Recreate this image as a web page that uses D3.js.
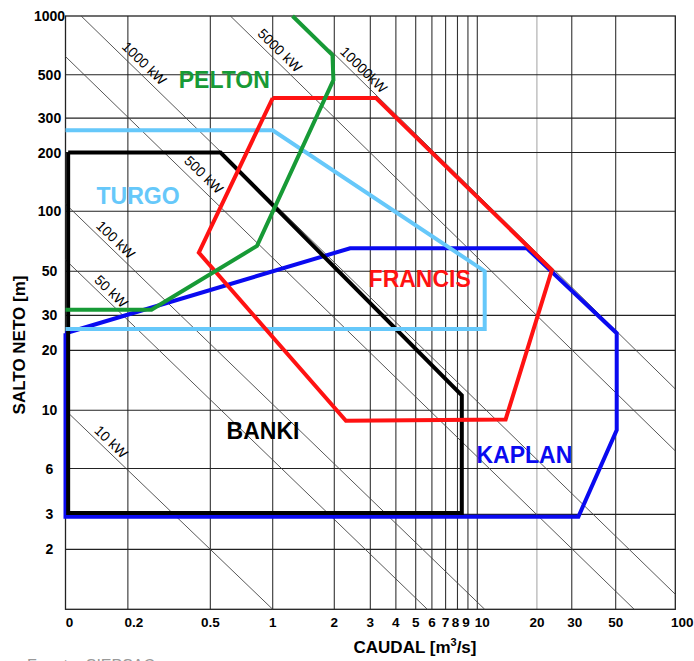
<!DOCTYPE html>
<html>
<head>
<meta charset="utf-8">
<script src="https://cdn.jsdelivr.net/npm/d3@7"></script>
<style>
    body { margin: 0; background: #fff; }
    text { font-family: "Liberation Sans", Arial, sans-serif; }
</style>
</head>
<body>
<script>
// axis ticks (the gridline labelled 6 sits at ~5.1 on the drawn log grid)
let xTicks = [0.1, 0.2, 0.5, 1, 2, 3, 4, 5, 6, 7, 8, 9, 10, 20, 30, 50, 100];
let xTickLabels = ['0', '0.2', '0.5', '1', '2', '3', '4', '5', '6', '7', '8', '9', '10', '20', '30', '50', '100'];
let yTicks = [1000, 500, 300, 200, 100, 50, 30, 20, 10, 5.1, 3, 2];
let yTickLabels = ['1000', '500', '300', '200', '100', '50', '30', '20', '10', '6', '3', '2'];

// constant power lines, Q*H product
let powerLabels = ['10 kW', '50 kW', '100 kW', '500 kW', '1000 kW', '5000 kW', '10000kW'];
let powerQH = [1, 5.7, 10.9, 62, 119, 625, 1280];
let powerLabelQ = [0.155, 0.155, 0.163, 0.434, 0.224, 1.01, 2.6];
let powerFromQ = [0, 0, 0, 0, 0, 0, 1.9];

// turbine envelopes [caudal m3/s, salto m]
let pelton = [[1.25, 1000], [1.96, 631], [1.98, 470], [0.84, 67], [0.26, 32], [0.1, 32]];
let turgo = [[0.1, 260], [1, 260], [10.9, 50], [10.9, 25.6], [0.1, 25.6]];
let banki = [[0.103, 200], [0.56, 200], [8.4, 11.9], [8.4, 3.05], [0.103, 3.05], [0.103, 200]];
let francis = [[1, 380], [3.2, 380], [23.8, 50.7], [13.9, 9], [2.28, 8.85], [0.44, 62], [1, 380]];
let kaplan = [[0.1, 24.4], [2.39, 65.2], [17.8, 65.2], [50.6, 24.4], [50.6, 7.96], [32.4, 2.92], [0.1, 2.92], [0.1, 24.4]];

let turbineNames = ['KAPLAN', 'BANKI', 'TURGO', 'FRANCIS', 'PELTON'];
let turbineShapes = [kaplan, banki, turgo, francis, pelton];
let turbineColors = ['#0a0af0', '#000000', '#66c8fa', '#ff1212', '#179a36'];
let turbineLabelPos = [[17.3, 5.42], [0.898, 7.15], [0.224, 109], [5.23, 41.5], [0.584, 427]];

let width = 694;
let height = 661;

let svg = d3.select('body').append('svg')
    .attr('width', width)
    .attr('height', height);

svg.append('rect').attr('width', width).attr('height', height).attr('fill', '#fff');

// hand drawn log grid, decades are not quite equal
let x = d3.scaleLog()
    .domain([0.1, 1, 10, 100])
    .range([65.5, 272.7, 477.3, 675.3]);
let y = d3.scaleLog()
    .domain([1, 10, 100, 1000])
    .range([609.3, 410.3, 211.3, 16]);

let plot = svg.append('g');

// grid
plot.selectAll('.vgrid')
    .data(xTicks.slice(1, -1))
    .join('line')
    .attr('class', 'vgrid')
    .attr('x1', d => x(d)).attr('x2', d => x(d))
    .attr('y1', y(1000)).attr('y2', y(1))
    .attr('stroke', d => d == 20 ? '#aaa' : '#333')
    .attr('stroke-width', 1.1);

plot.selectAll('.hgrid')
    .data(yTicks.slice(1))
    .join('line')
    .attr('class', 'hgrid')
    .attr('x1', x(0.1)).attr('x2', x(100))
    .attr('y1', d => y(d)).attr('y2', d => y(d))
    .attr('stroke', '#222')
    .attr('stroke-width', 1.1);

plot.append('rect')
    .attr('x', x(0.1)).attr('y', y(1000))
    .attr('width', x(100) - x(0.1))
    .attr('height', y(1) - y(1000))
    .attr('fill', 'none')
    .attr('stroke', '#222')
    .attr('stroke-width', 1.3);

// power lines
let powerData = powerQH.map((c, i) => {
    let q1 = Math.max(0.1, c / 1000, powerFromQ[i]);
    let q2 = Math.min(100, c);
    let p1 = [x(q1), y(c / q1)];
    let p2 = [x(q2), y(c / q2)];
    let lq = powerLabelQ[i];
    return {
        p1: p1, p2: p2,
        label: powerLabels[i],
        lx: x(lq), ly: y(c / lq),
        angle: Math.atan2(p2[1] - p1[1], p2[0] - p1[0]) * 180 / Math.PI
    };
});

plot.selectAll('.pline')
    .data(powerData)
    .join('line')
    .attr('class', 'pline')
    .attr('x1', d => d.p1[0]).attr('y1', d => d.p1[1])
    .attr('x2', d => d.p2[0]).attr('y2', d => d.p2[1])
    .attr('stroke', '#444')
    .attr('stroke-width', 0.9);

plot.selectAll('.plabel')
    .data(powerData)
    .join('text')
    .attr('class', 'plabel')
    .attr('transform', d => `translate(${d.lx},${d.ly}) rotate(${d.angle})`)
    .attr('dy', -4)
    .attr('text-anchor', 'middle')
    .attr('font-size', 14)
    .attr('fill', '#000')
    .text(d => d.label);

// turbine envelopes
let line = d3.line()
    .x(d => x(d[0]))
    .y(d => y(d[1]));

plot.selectAll('.turbine')
    .data(turbineShapes)
    .join('path')
    .attr('class', 'turbine')
    .attr('d', line)
    .attr('fill', 'none')
    .attr('stroke', (_, i) => turbineColors[i])
    .attr('stroke-width', 4)
    .attr('stroke-linejoin', 'miter');

plot.selectAll('.tlabel')
    .data(turbineNames)
    .join('text')
    .attr('class', 'tlabel')
    .attr('x', (_, i) => x(turbineLabelPos[i][0]))
    .attr('y', (_, i) => y(turbineLabelPos[i][1]))
    .attr('text-anchor', 'middle')
    .attr('font-size', 23)
    .attr('font-weight', 'bold')
    .attr('fill', (_, i) => turbineColors[i])
    .text(d => d);

// tick labels, a few sit a little right of their gridline in the original
let xLabelNudge = {0.1: 4, 0.2: 6, 8: -2, 9: -2, 10: 5, 30: 3, 100: 7};

svg.selectAll('.xtick')
    .data(xTicks)
    .join('text')
    .attr('class', 'xtick')
    .attr('x', d => x(d) + (xLabelNudge[d] || 0))
    .attr('y', 627)
    .attr('text-anchor', 'middle')
    .attr('font-size', 13.5)
    .attr('font-weight', 'bold')
    .text((_, i) => xTickLabels[i]);

svg.selectAll('.ytick')
    .data(yTicks)
    .join('text')
    .attr('class', 'ytick')
    .attr('x', 49.5)
    .attr('y', d => y(d))
    .attr('dy', '0.36em')
    .attr('text-anchor', 'middle')
    .attr('font-size', 14)
    .attr('font-weight', 'bold')
    .text((_, i) => yTickLabels[i]);

// axis titles
let xTitle = svg.append('text')
    .attr('x', 415)
    .attr('y', 653)
    .attr('text-anchor', 'middle')
    .attr('font-size', 17)
    .attr('font-weight', 'bold');
xTitle.append('tspan').text('CAUDAL [m');
xTitle.append('tspan').attr('font-size', 11).attr('dy', -7).text('3');
xTitle.append('tspan').attr('dy', 7).text('/s]');

svg.append('text')
    .attr('transform', 'translate(25,345) rotate(-90)')
    .attr('text-anchor', 'middle')
    .attr('font-size', 17)
    .attr('font-weight', 'bold')
    .text('SALTO NETO [m]');

// source line, cut by the bottom edge as in the original
svg.append('text')
    .attr('x', 27)
    .attr('y', 671)
    .attr('font-size', 16)
    .attr('fill', '#999')
    .text('Fuente: SIEPSAC');
</script>
</body>
</html>
